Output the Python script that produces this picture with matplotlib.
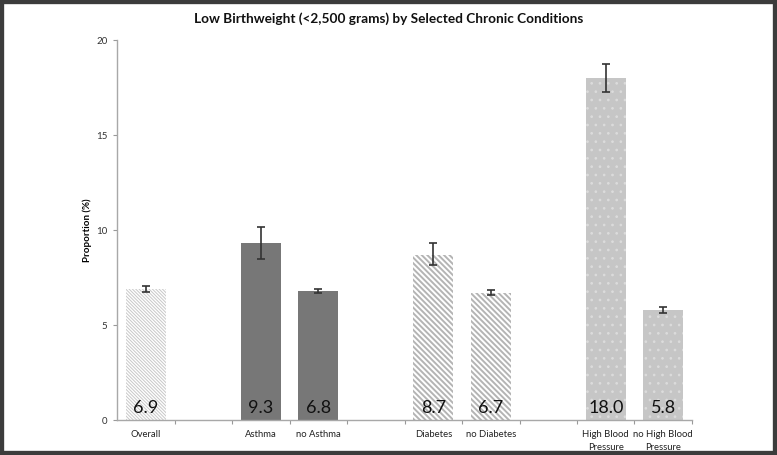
import matplotlib
matplotlib.use("Agg")
import matplotlib.pyplot as plt
from matplotlib.patches import Rectangle

plt.rcParams['font.family'] = ['Lato', 'DejaVu Sans']

# ---- data ----
groups = [
    ["Overall"],
    ["Asthma", "no Asthma"],
    ["Diabetes", "no Diabetes"],
    ["High Blood\nPressure", "no High Blood\nPressure"],
]
values = [6.9, 9.3, 6.8, 8.7, 6.7, 18.0, 5.8]
err_lo = [0.15, 0.85, 0.12, 0.55, 0.12, 0.75, 0.15]
err_hi = [0.15, 0.85, 0.12, 0.6, 0.12, 0.75, 0.15]
value_labels = ["6.9", "9.3", "6.8", "8.7", "6.7", "18.0", "5.8"]
y_ticks = [0, 5, 10, 15, 20]
title = "Low Birthweight (<2,500 grams) by Selected Chronic Conditions"
y_label = "Proportion (%)"

# styles per group
group_styles = [
    dict(facecolor="white", edgecolor="#c8c8c8", hatch="\\" * 10, hlw=0.7),
    dict(facecolor="#777777", edgecolor="#777777", hatch=None, hlw=1.0),
    dict(facecolor="white", edgecolor="#b4b4b4", hatch="\\" * 6, hlw=1.4),
    dict(facecolor="#c6c6c6", edgecolor="#dcdcdc", hatch="..", hlw=0.7),
]

# compute positions: slot for each bar, empty slot between groups
positions, labels, styles = [], [], []
slot = 0
for gi, g in enumerate(groups):
    if gi > 0:
        slot += 1
    for name in g:
        positions.append(slot)
        labels.append(name)
        styles.append(group_styles[gi])
        slot += 1
n_slots = slot

fig = plt.figure(figsize=(7.77, 4.55), dpi=100)
ax = fig.add_axes([0.1506, 0.0769, 0.74, 0.835])

for i, (x, v) in enumerate(zip(positions, values)):
    st = styles[i]
    b = ax.bar(x, v, width=0.7, facecolor=st["facecolor"], edgecolor=st["edgecolor"],
               linewidth=0, hatch=st["hatch"], zorder=2)
    for p in b:
        try:
            p.set_hatch_linewidth(st["hlw"])
        except Exception:
            pass
    ax.errorbar(x, v, yerr=[[err_lo[i]], [err_hi[i]]], fmt="none", ecolor="#333333",
                elinewidth=1.2, capsize=3, capthick=1.2, zorder=3)
    ax.text(x, 0.2, value_labels[i], ha="center", va="bottom", fontsize=13,
            color="#111111", zorder=4)

ax.set_xlim(-0.5, n_slots - 0.5)
ax.set_ylim(0, 20)
ax.set_yticks(y_ticks)
ax.set_yticklabels([str(t) for t in y_ticks], fontsize=7, color="#333333")
ax.set_xticks(positions)
ax.set_xticklabels(labels, fontsize=6.8, color="#222222", linespacing=1.6)
ax.tick_params(axis="x", length=0, pad=7)
ax.tick_params(axis="y", length=3, width=0.8, color="#999999", pad=4)
# minor ticks at slot boundaries
ax.set_xticks([s + 0.5 for s in range(n_slots)], minor=True)
ax.tick_params(axis="x", which="minor", length=3, width=0.8, color="#999999")

for s in ["top", "right"]:
    ax.spines[s].set_visible(False)
for s in ["left", "bottom"]:
    ax.spines[s].set_color("#a8a8a8")
    ax.spines[s].set_linewidth(1.0)

ax.set_ylabel(y_label, fontsize=7, fontweight="bold")
ax.yaxis.set_label_coords(-0.044, 0.5)
fig.text(0.5, 0.958, title, ha="center", va="center", fontsize=9.8, fontweight="bold",
         color="#111111")

fig.patches.append(Rectangle((0, 0), 1, 1, transform=fig.transFigure, fill=False,
                             edgecolor="#3c3c3c", linewidth=6, zorder=10))

fig.savefig("out.png", dpi=100)
